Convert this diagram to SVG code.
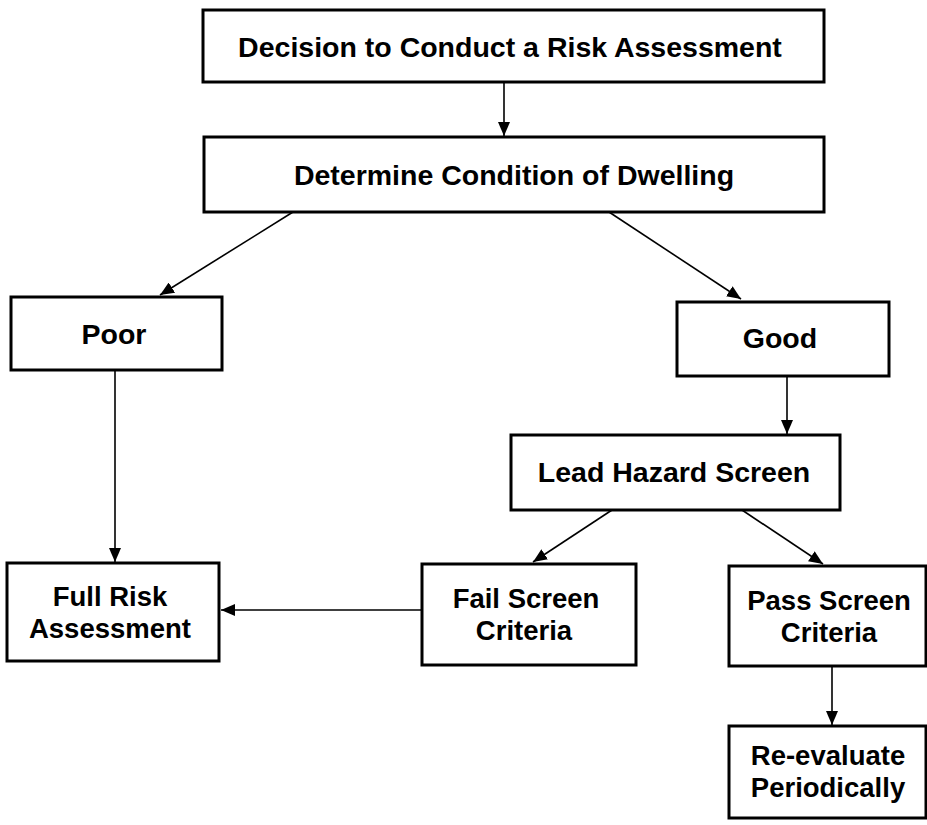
<svg xmlns="http://www.w3.org/2000/svg" width="927" height="825" viewBox="0 0 927 825">
<style>
.box{fill:#fff;stroke:#000;stroke-width:3}
.lbl{font-family:"Liberation Sans",Arial,Helvetica,sans-serif;font-weight:bold;font-size:28.5px;fill:#000;text-anchor:middle}
.lbl2{font-size:27.5px}
.conn{stroke:#000;stroke-width:1.6;fill:none;marker-end:url(#ah)}
</style>
<defs>
<marker id="ah" viewBox="0 0 14 12" refX="14" refY="6" markerWidth="14" markerHeight="12" markerUnits="userSpaceOnUse" orient="auto">
<path d="M0,0 L14,6 L0,12 Z" fill="#000"/>
</marker>
</defs>
<rect width="927" height="825" fill="#fff"/>
<g id="connectors">
<line class="conn" x1="504" y1="82" x2="504" y2="136"/>
<line class="conn" x1="293" y1="212" x2="160" y2="295"/>
<line class="conn" x1="609" y1="212" x2="741" y2="299"/>
<line class="conn" x1="115" y1="370" x2="115" y2="562"/>
<line class="conn" x1="787" y1="376" x2="787" y2="434"/>
<line class="conn" x1="612" y1="510" x2="533" y2="562"/>
<line class="conn" x1="742" y1="510" x2="823" y2="564"/>
<line class="conn" x1="422" y1="610" x2="221" y2="610"/>
<line class="conn" x1="832" y1="667" x2="832" y2="725"/>
</g>
<g id="n-decision">
<rect class="box" x="203" y="10" width="621" height="72"/>
<text class="lbl" x="510" y="57">Decision to Conduct a Risk Assessment</text>
</g>
<g id="n-condition">
<rect class="box" x="204" y="137" width="620" height="75"/>
<text class="lbl" x="514" y="185">Determine Condition of Dwelling</text>
</g>
<g id="n-poor">
<rect class="box" x="11" y="297" width="211" height="73"/>
<text class="lbl" x="114" y="344">Poor</text>
</g>
<g id="n-good">
<rect class="box" x="677" y="302" width="212" height="74"/>
<text class="lbl" x="780" y="348">Good</text>
</g>
<g id="n-lead">
<rect class="box" x="511" y="435" width="329" height="75"/>
<text class="lbl" x="674" y="482">Lead Hazard Screen</text>
</g>
<g id="n-full">
<rect class="box" x="7" y="563" width="212" height="98"/>
<text class="lbl lbl2" x="110" y="606">Full Risk</text>
<text class="lbl lbl2" x="110" y="638">Assessment</text>
</g>
<g id="n-fail">
<rect class="box" x="422" y="564" width="214" height="101"/>
<text class="lbl lbl2" x="526" y="608">Fail Screen</text>
<text class="lbl lbl2" x="524" y="640">Criteria</text>
</g>
<g id="n-pass">
<rect class="box" x="729" y="566" width="197" height="100"/>
<text class="lbl lbl2" x="829" y="610">Pass Screen</text>
<text class="lbl lbl2" x="829" y="642">Criteria</text>
</g>
<g id="n-reeval">
<rect class="box" x="729" y="726" width="197" height="92"/>
<text class="lbl lbl2" x="828" y="765">Re-evaluate</text>
<text class="lbl lbl2" x="828" y="797">Periodically</text>
</g>
</svg>
